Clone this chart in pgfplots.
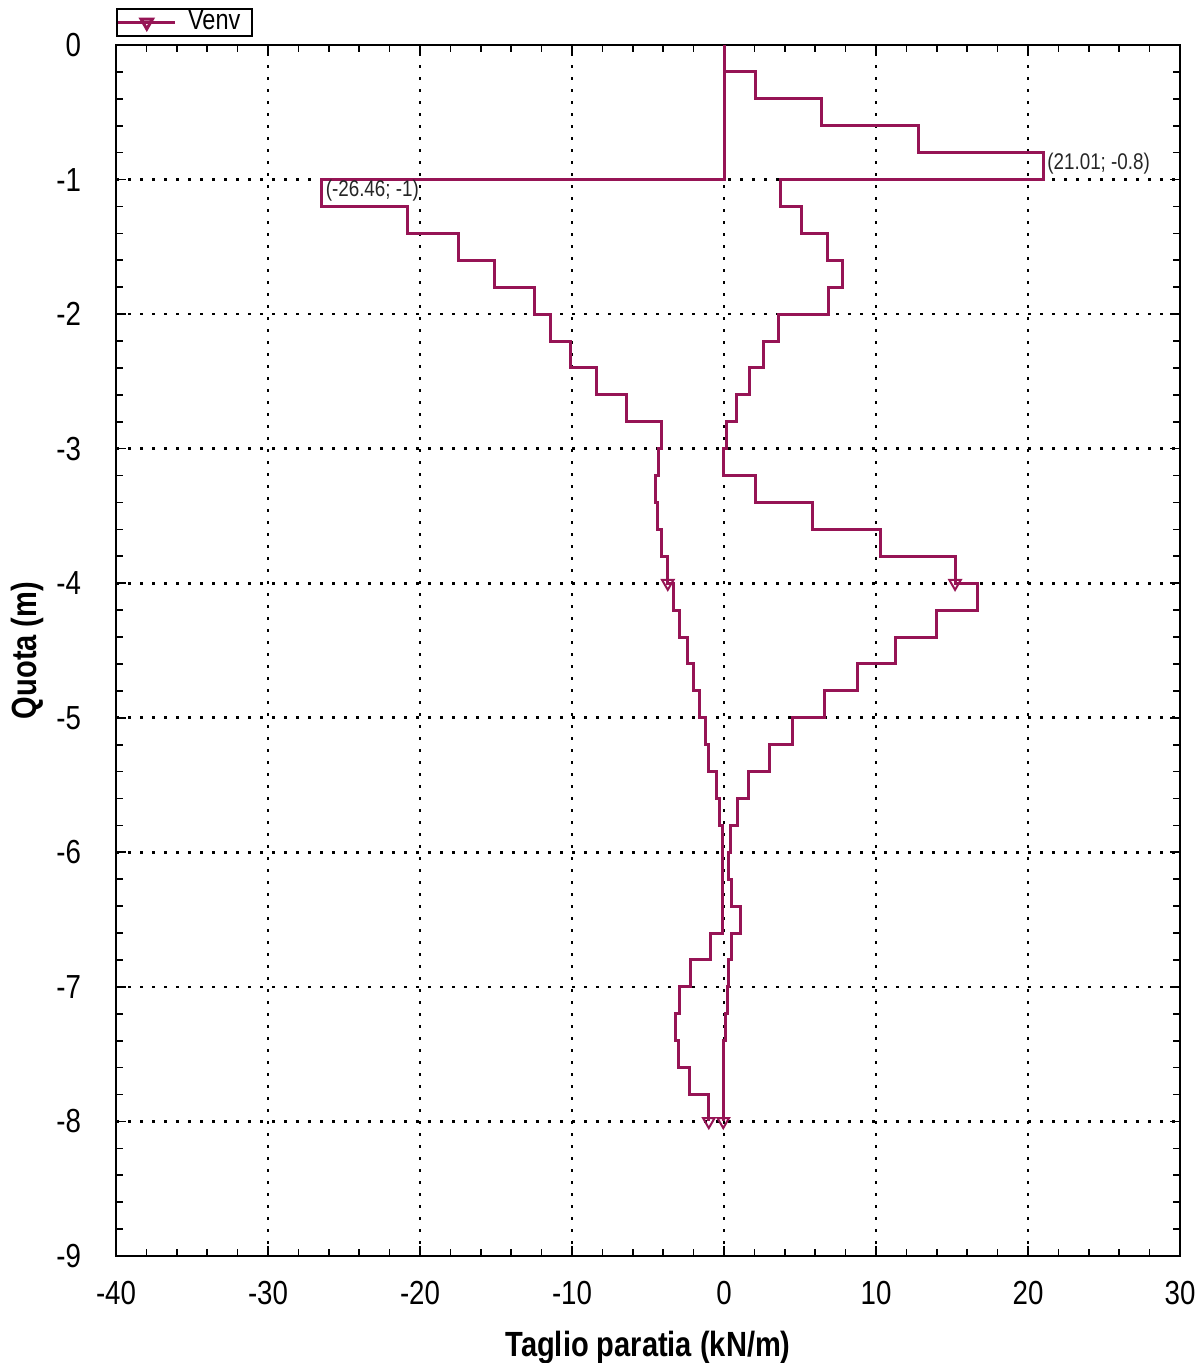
\documentclass[border=0pt]{standalone}
\usepackage{pgfplots}
\pgfplotsset{compat=1.18}
\usepackage{fontspec}
\setmainfont[FakeStretch=0.83]{Liberation Sans}
\definecolor{venv}{RGB}{150,20,85}
\begin{document}
\begin{tikzpicture}
\begin{axis}[
  name=ax,
  scale only axis,
  width=319.2pt, height=363.3pt,
  xmin=-40, xmax=30, ymin=-9, ymax=0,
  xtick={-40,-30,...,30}, ytick={-9,-8,...,0},
  minor x tick num=4, minor y tick num=4,
  tick align=inside,
  major tick length=3pt, minor tick length=2pt,
  grid=major,
  major grid style={black, line width=0.8pt, dash pattern=on 0.8pt off 2.8pt},
  axis line style={black, line width=0.6pt},
  every tick/.style={black, line width=0.5pt},
  /pgf/number format/assume math mode=true,
  tick label style={font=\fontsize{10}{12}\selectfont},
  xticklabel style={yshift=-4pt},
  yticklabel style={xshift=-7pt},
  xlabel={\textbf{Taglio paratia (kN/m)}},
  ylabel={\textbf{Quota (m)}},
  label style={font=\fontsize{10.5}{12}\selectfont},
  xlabel style={yshift=-1pt},
  ylabel style={yshift=-3pt},
  clip=false,
  legend style={at={(rel axis cs:0,1.0306)}, anchor=north west,
    font=\fontsize{8.5}{9}\selectfont, draw=black, line width=0.5pt,
    inner sep=0pt, nodes={inner xsep=3.4pt, inner ysep=0.4pt}, row sep=0pt},
  legend image code/.code={\draw[#1] (0cm,0cm) -- (0.6cm,0cm);
    \draw[#1, mark repeat=2, mark phase=2] plot coordinates {(0cm,0cm) (0.3cm,0cm) (0.6cm,0cm)};},
  legend cell align=left,
]
\addlegendimage{color=venv, line width=0.9pt, mark=triangle, mark size=2pt, mark options={rotate=180, solid}}
\addlegendentry{Venv}
% lower envelope
\addplot[color=venv, line width=0.9pt, forget plot] coordinates {
(0,0)(0,-1)(-26.46,-1)(-26.46,-1.2)(-20.8,-1.2)(-20.8,-1.4)(-17.5,-1.4)(-17.5,-1.6)
(-15.1,-1.6)(-15.1,-1.8)(-12.5,-1.8)(-12.5,-2.0)(-11.4,-2.0)(-11.4,-2.2)(-10.1,-2.2)
(-10.1,-2.4)(-8.4,-2.4)(-8.4,-2.6)(-6.4,-2.6)(-6.4,-2.8)(-4.1,-2.8)(-4.1,-3.0)
(-4.3,-3.0)(-4.3,-3.2)(-4.5,-3.2)(-4.5,-3.4)(-4.4,-3.4)(-4.4,-3.6)(-4.1,-3.6)
(-4.1,-3.8)(-3.7,-3.8)(-3.7,-4.0)(-3.35,-4.0)(-3.35,-4.2)(-2.9,-4.2)(-2.9,-4.4)
(-2.4,-4.4)(-2.4,-4.6)(-2.0,-4.6)(-2.0,-4.8)(-1.6,-4.8)(-1.6,-5.0)(-1.2,-5.0)
(-1.2,-5.2)(-1.0,-5.2)(-1.0,-5.4)(-0.5,-5.4)(-0.5,-5.6)(-0.3,-5.6)(-0.3,-5.8)
(-0.1,-5.8)(-0.1,-6.6)(-0.9,-6.6)(-0.9,-6.8)(-2.2,-6.8)(-2.2,-7.0)(-2.9,-7.0)
(-2.9,-7.2)(-3.2,-7.2)(-3.2,-7.4)(-3.0,-7.4)(-3.0,-7.6)(-2.3,-7.6)(-2.3,-7.8)
(-1.0,-7.8)(-1.0,-8.0)
};
% upper envelope
\addplot[color=venv, line width=0.9pt, forget plot] coordinates {
(0,0)(0,-0.2)(2.1,-0.2)(2.1,-0.4)(6.4,-0.4)(6.4,-0.6)(12.8,-0.6)(12.8,-0.8)
(21.01,-0.8)(21.01,-1.0)(3.7,-1.0)(3.7,-1.2)(5.1,-1.2)(5.1,-1.4)(6.8,-1.4)(6.8,-1.6)
(7.8,-1.6)(7.8,-1.8)(6.9,-1.8)(6.9,-2.0)(3.6,-2.0)(3.6,-2.2)(2.6,-2.2)(2.6,-2.4)
(1.7,-2.4)(1.7,-2.6)(0.8,-2.6)(0.8,-2.8)(0.15,-2.8)(0.15,-3.0)(-0.05,-3.0)(-0.05,-3.2)
(2.1,-3.2)(2.1,-3.4)(5.8,-3.4)(5.8,-3.6)(10.3,-3.6)(10.3,-3.8)(15.2,-3.8)(15.2,-4.0)
(16.7,-4.0)(16.7,-4.2)(14.0,-4.2)(14.0,-4.4)(11.3,-4.4)(11.3,-4.6)(8.8,-4.6)(8.8,-4.8)
(6.6,-4.8)(6.6,-5.0)(4.5,-5.0)(4.5,-5.2)(3.0,-5.2)(3.0,-5.4)(1.6,-5.4)(1.6,-5.6)
(0.9,-5.6)(0.9,-5.8)(0.4,-5.8)(0.4,-6.0)(0.3,-6.0)(0.3,-6.2)(0.5,-6.2)(0.5,-6.4)
(1.1,-6.4)(1.1,-6.6)(0.5,-6.6)(0.5,-6.8)(0.3,-6.8)(0.3,-7.0)(0.2,-7.0)(0.2,-7.2)
(0.1,-7.2)(0.1,-7.4)(-0.05,-7.4)(-0.05,-8.0)
};
% markers
\addplot[only marks, color=venv, mark=triangle, mark size=2pt, mark options={rotate=180, line width=0.6pt}, forget plot] coordinates {
(-3.7,-4.0)(15.2,-4.0)(-1.0,-8.0)(-0.05,-8.0)
};
\node[anchor=west, inner sep=1pt, font=\fontsize{6.8}{7}\selectfont, text=black!85] at (axis cs:21.01,-0.88) {(21.01; -0.8)};
\node[anchor=west, inner sep=1pt, font=\fontsize{6.8}{7}\selectfont, text=black!85] at (axis cs:-26.46,-1.08) {(-26.46; -1)};
\end{axis}
\pgfresetboundingbox
\path[use as bounding box] ([shift={(-34.8pt,-32.1pt)}]ax.south west) rectangle ([shift={(6pt,13.5pt)}]ax.north east);
\end{tikzpicture}
\end{document}
